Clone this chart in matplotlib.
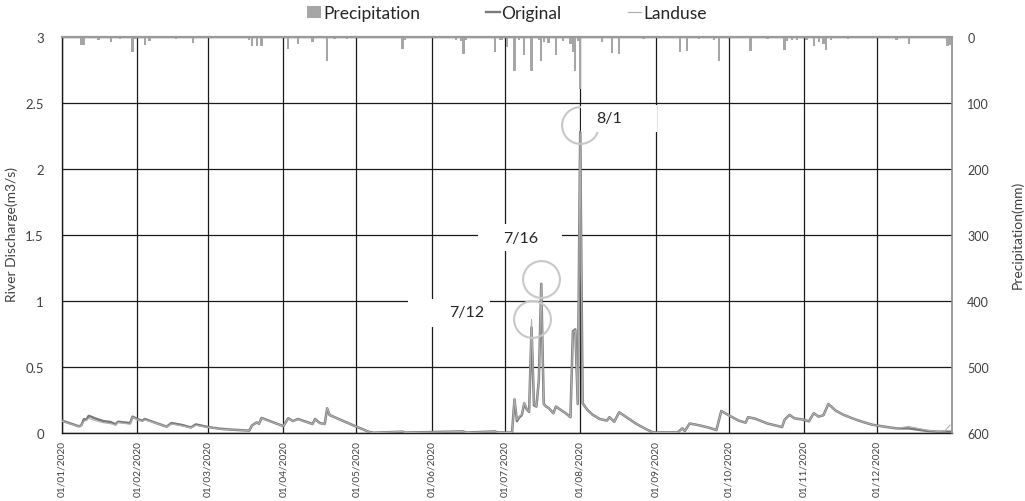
import matplotlib
matplotlib.use("Agg")
import matplotlib.pyplot as plt
import matplotlib.dates as mdates
from matplotlib.lines import Line2D
from matplotlib.patches import Patch, Rectangle
import pandas as pd

plt.rcParams['font.family'] = ['Lato', 'DejaVu Sans']

# ---------------- data ----------------
q_dates = ["2020-01-01", "2020-01-04", "2020-01-08", "2020-01-09", "2020-01-10", "2020-01-11",
           "2020-01-12", "2020-01-15", "2020-01-18", "2020-01-21", "2020-01-23", "2020-01-24",
           "2020-01-29", "2020-01-30", "2020-02-01", "2020-02-03", "2020-02-04", "2020-02-08",
           "2020-02-13", "2020-02-15", "2020-02-19", "2020-02-23", "2020-02-25", "2020-03-01",
           "2020-03-06", "2020-03-11", "2020-03-18", "2020-03-19", "2020-03-20", "2020-03-21",
           "2020-03-22", "2020-03-23", "2020-04-01", "2020-04-03", "2020-04-05", "2020-04-07",
           "2020-04-13", "2020-04-14", "2020-04-16", "2020-04-18", "2020-04-19", "2020-04-20",
           "2020-05-01", "2020-05-06", "2020-05-08", "2020-05-20", "2020-05-21", "2020-06-14",
           "2020-06-15", "2020-06-27", "2020-06-28", "2020-07-03", "2020-07-04", "2020-07-05",
           "2020-07-06", "2020-07-07", "2020-07-08", "2020-07-09", "2020-07-10", "2020-07-11",
           "2020-07-12", "2020-07-13", "2020-07-14", "2020-07-15", "2020-07-16", "2020-07-17",
           "2020-07-18", "2020-07-19", "2020-07-20", "2020-07-21", "2020-07-22", "2020-07-24",
           "2020-07-26", "2020-07-28", "2020-07-29", "2020-07-30", "2020-07-31", "2020-08-01",
           "2020-08-02", "2020-08-04", "2020-08-06", "2020-08-09", "2020-08-12", "2020-08-13",
           "2020-08-15", "2020-08-17", "2020-08-20", "2020-08-24", "2020-08-28", "2020-08-31",
           "2020-09-10", "2020-09-12", "2020-09-13", "2020-09-15", "2020-09-19", "2020-09-23",
           "2020-09-26", "2020-09-28", "2020-10-01", "2020-10-05", "2020-10-08", "2020-10-09",
           "2020-10-12", "2020-10-17", "2020-10-23", "2020-10-24", "2020-10-26", "2020-10-28",
           "2020-11-01", "2020-11-03", "2020-11-05", "2020-11-07", "2020-11-09", "2020-11-11",
           "2020-11-14", "2020-11-17", "2020-11-21", "2020-11-25", "2020-11-29", "2020-12-04",
           "2020-12-09", "2020-12-14", "2020-12-18", "2020-12-22", "2020-12-26", "2020-12-29",
           "2020-12-31"]

original = [0.093, 0.075, 0.050, 0.060, 0.105, 0.100,
            0.130, 0.108, 0.090, 0.083, 0.065, 0.085,
            0.075, 0.124, 0.105, 0.093, 0.106, 0.080,
            0.048, 0.075, 0.062, 0.042, 0.065, 0.045,
            0.032, 0.025, 0.018, 0.055, 0.068, 0.080,
            0.070, 0.114, 0.052, 0.112, 0.090, 0.106,
            0.068, 0.106, 0.075, 0.068, 0.187, 0.136,
            0.048, 0.010, 0.002, 0.010, 0.003, 0.012,
            0.003, 0.012, 0.004, 0.003, 0.005, 0.255,
            0.090, 0.120, 0.135, 0.225, 0.180, 0.160,
            0.800, 0.210, 0.200, 0.400, 1.130, 0.220,
            0.200, 0.190, 0.170, 0.150, 0.200, 0.175,
            0.150, 0.120, 0.770, 0.785, 0.220, 2.280,
            0.225, 0.175, 0.140, 0.106, 0.094, 0.120,
            0.085, 0.157, 0.120, 0.070, 0.030, 0.004,
            0.004, 0.035, 0.015, 0.072, 0.058, 0.040,
            0.022, 0.167, 0.135, 0.095, 0.078, 0.120,
            0.108, 0.072, 0.045, 0.100, 0.137, 0.112,
            0.100, 0.088, 0.150, 0.124, 0.135, 0.220,
            0.170, 0.140, 0.110, 0.085, 0.063, 0.048,
            0.035, 0.035, 0.025, 0.015, 0.010, 0.010,
            0.010]

landuse = [0.090, 0.071, 0.050, 0.058, 0.088, 0.095,
           0.110, 0.092, 0.078, 0.070, 0.060, 0.080,
           0.066, 0.120, 0.100, 0.090, 0.100, 0.078,
           0.048, 0.068, 0.055, 0.040, 0.058, 0.043,
           0.030, 0.024, 0.018, 0.055, 0.066, 0.080,
           0.070, 0.112, 0.052, 0.110, 0.088, 0.104,
           0.066, 0.104, 0.073, 0.066, 0.190, 0.136,
           0.048, 0.010, 0.002, 0.012, 0.003, 0.012,
           0.003, 0.012, 0.004, 0.003, 0.005, 0.260,
           0.100, 0.125, 0.140, 0.230, 0.180, 0.160,
           0.860, 0.220, 0.200, 0.400, 1.130, 0.220,
           0.200, 0.190, 0.170, 0.150, 0.200, 0.175,
           0.150, 0.120, 0.760, 0.780, 0.220, 2.270,
           0.225, 0.175, 0.140, 0.106, 0.094, 0.120,
           0.085, 0.157, 0.120, 0.070, 0.030, 0.004,
           0.004, 0.035, 0.015, 0.072, 0.058, 0.040,
           0.022, 0.167, 0.135, 0.095, 0.078, 0.120,
           0.108, 0.072, 0.045, 0.100, 0.137, 0.112,
           0.100, 0.088, 0.150, 0.124, 0.135, 0.220,
           0.170, 0.140, 0.110, 0.085, 0.063, 0.048,
           0.035, 0.050, 0.035, 0.020, 0.012, 0.015,
           0.060]

p_dates = ["2020-01-09", "2020-01-10", "2020-01-16", "2020-01-21", "2020-01-25", "2020-01-30",
           "2020-01-31", "2020-02-04", "2020-02-06", "2020-02-17", "2020-02-24", "2020-03-18",
           "2020-03-19", "2020-03-21", "2020-03-23", "2020-04-03", "2020-04-07", "2020-04-13",
           "2020-04-19", "2020-04-22", "2020-04-25", "2020-04-27", "2020-05-20", "2020-05-21",
           "2020-05-25", "2020-05-30", "2020-06-11", "2020-06-13", "2020-06-14", "2020-06-15",
           "2020-06-21", "2020-06-27", "2020-06-29", "2020-06-30", "2020-07-02", "2020-07-05",
           "2020-07-07", "2020-07-09", "2020-07-12", "2020-07-15", "2020-07-16", "2020-07-17",
           "2020-07-19", "2020-07-22", "2020-07-25", "2020-07-28", "2020-07-29", "2020-07-30",
           "2020-07-31", "2020-08-01", "2020-08-10", "2020-08-14", "2020-08-17", "2020-08-27",
           "2020-09-11", "2020-09-14", "2020-09-19", "2020-09-25", "2020-09-27", "2020-10-10",
           "2020-10-17", "2020-10-24", "2020-10-25", "2020-10-27", "2020-10-29", "2020-11-02",
           "2020-11-05", "2020-11-07", "2020-11-09", "2020-11-10", "2020-11-12", "2020-11-19",
           "2020-12-09", "2020-12-14", "2020-12-30", "2020-12-31"]
precip = [12, 12, 4, 8, 3, 23,
          3, 12, 6, 3, 9, 4,
          13, 13, 13, 18, 10, 7,
          36, 3, 2, 3, 18, 4,
          2, 2, 4, 6, 26, 5,
          2, 23, 5, 4, 15, 52,
          5, 28, 51, 5, 36, 8,
          9, 27, 6, 10, 22, 52,
          6, 79, 8, 24, 26, 3,
          23, 21, 3, 5, 36, 21,
          3, 19, 6, 5, 4, 5,
          14, 8, 10, 20, 5, 3,
          4, 10, 13, 12]

month_ticks = ["2020-01-01", "2020-02-01", "2020-03-01", "2020-04-01", "2020-05-01", "2020-06-01",
               "2020-07-01", "2020-08-01", "2020-09-01", "2020-10-01", "2020-11-01", "2020-12-01"]

annotations = [("7/12", "2020-07-12", 0.86), ("7/16", "2020-07-16", 1.17), ("8/1", "2020-08-01", 2.33)]

# ---------------- figure ----------------
qd = pd.to_datetime(q_dates)
pdt = pd.to_datetime(p_dates)
ticks = pd.to_datetime(month_ticks)

fig = plt.figure(figsize=(10.25, 5.02), dpi=100)
ax = fig.add_axes([62 / 1025, 1 - 434 / 502, 890 / 1025, 396 / 502])
ax2 = ax.twinx()

grid_c = '#1a1a1a'
ax.set_ylim(0, 3)
ax.set_yticks([0, 0.5, 1, 1.5, 2, 2.5, 3])
ax.set_yticklabels(['0', '0.5', '1', '1.5', '2', '2.5', '3'])
ax.set_xlim(pd.Timestamp("2020-01-01"), pd.Timestamp("2020-12-31 20:00"))
ax.set_xticks(ticks)
ax.xaxis.set_major_formatter(mdates.DateFormatter("%d/%m/%Y"))
for lab in ax.get_xticklabels():
    lab.set_rotation(90)
ax.tick_params(axis='x', length=0, pad=5, labelsize=7.3, labelcolor='#404040')
ax.tick_params(axis='y', length=0, pad=13, labelsize=9.5, labelcolor='#404040')
ax.grid(True, color=grid_c, lw=0.9, zorder=0)
ax.set_axisbelow(True)
for s in ['left', 'bottom']:
    ax.spines[s].set_color(grid_c)
    ax.spines[s].set_linewidth(1.0)
for s in ['top', 'right']:
    ax.spines[s].set_visible(False)

ax.plot(qd, original, color='#7a7a7a', lw=1.8, zorder=3)
ax.plot(qd, landuse, color='#b0b0b0', lw=0.8, zorder=4)

# precipitation on secondary (inverted) axis
ax2.set_ylim(600, 0)
ax2.set_yticks([0, 100, 200, 300, 400, 500, 600])
ax2.tick_params(axis='y', length=0, pad=11, labelsize=9, labelcolor='#404040')
ax2.bar(pdt, precip, width=0.9, color='#a6a6a6', align='center', zorder=2)
ax2.spines['top'].set_color('#9a9a9a')
ax2.spines['top'].set_linewidth(1.6)
ax2.spines['right'].set_color('#8a8a8a')
ax2.spines['right'].set_linewidth(1.2)
ax2.spines['left'].set_visible(False)
ax2.spines['bottom'].set_visible(False)
ax2.set_xlim(ax.get_xlim())

# annotation circles (in data coords of ax)
for label, d, yv in annotations:
    ax.plot([pd.Timestamp(d)], [yv], marker='o', ms=26.5, mfc='none',
            mec='#c8c8c8', mew=1.5, zorder=5)

# white label boxes (axes fraction)
boxes = [((408 - 62) / 890, (434 - 328) / 396, 82 / 890, 28 / 396, (467 - 62) / 890, (434 - 313) / 396, "7/12"),
         ((478 - 62) / 890, (434 - 252) / 396, 84 / 890, 27 / 396, (521 - 62) / 890, (434 - 239) / 396, "7/16"),
         ((581 - 62) / 890, (434 - 133) / 396, 76 / 890, 27 / 396, (609 - 62) / 890, (434 - 119) / 396, "8/1")]
for x0, y0, w, h, tx, ty, t in boxes:
    ax.add_patch(Rectangle((x0, y0), w, h, transform=ax.transAxes, facecolor='white',
                           edgecolor='none', zorder=6))
    ax.text(tx, ty, t, transform=ax.transAxes, ha='center', va='center',
            fontsize=11.5, color='#262626', zorder=7)

# axis titles
fig.text(12 / 1025, 1 - 234 / 502, "River Discharge(m3/s)", rotation=90, ha='center',
         va='center', fontsize=10, color='#404040')
fig.text(1017 / 1025, 1 - 235 / 502, "Precipitation(mm)", rotation=90, ha='center',
         va='center', fontsize=10, color='#404040')

# legend
handles = [Patch(facecolor='#a6a6a6', edgecolor='none'),
           Line2D([], [], color='#7a7a7a', lw=1.7),
           Line2D([], [], color='#b0b0b0', lw=0.9)]
fig.legend(handles, ["Precipitation", "Original", "Landuse"], loc='center',
           bbox_to_anchor=(507 / 1025, 1 - 14 / 502), ncol=3, frameon=False,
           fontsize=12.5, handlelength=0.8, handleheight=0.75, handletextpad=0.1,
           columnspacing=3.8, labelcolor='#262626')

fig.savefig("out.png", dpi=100)
